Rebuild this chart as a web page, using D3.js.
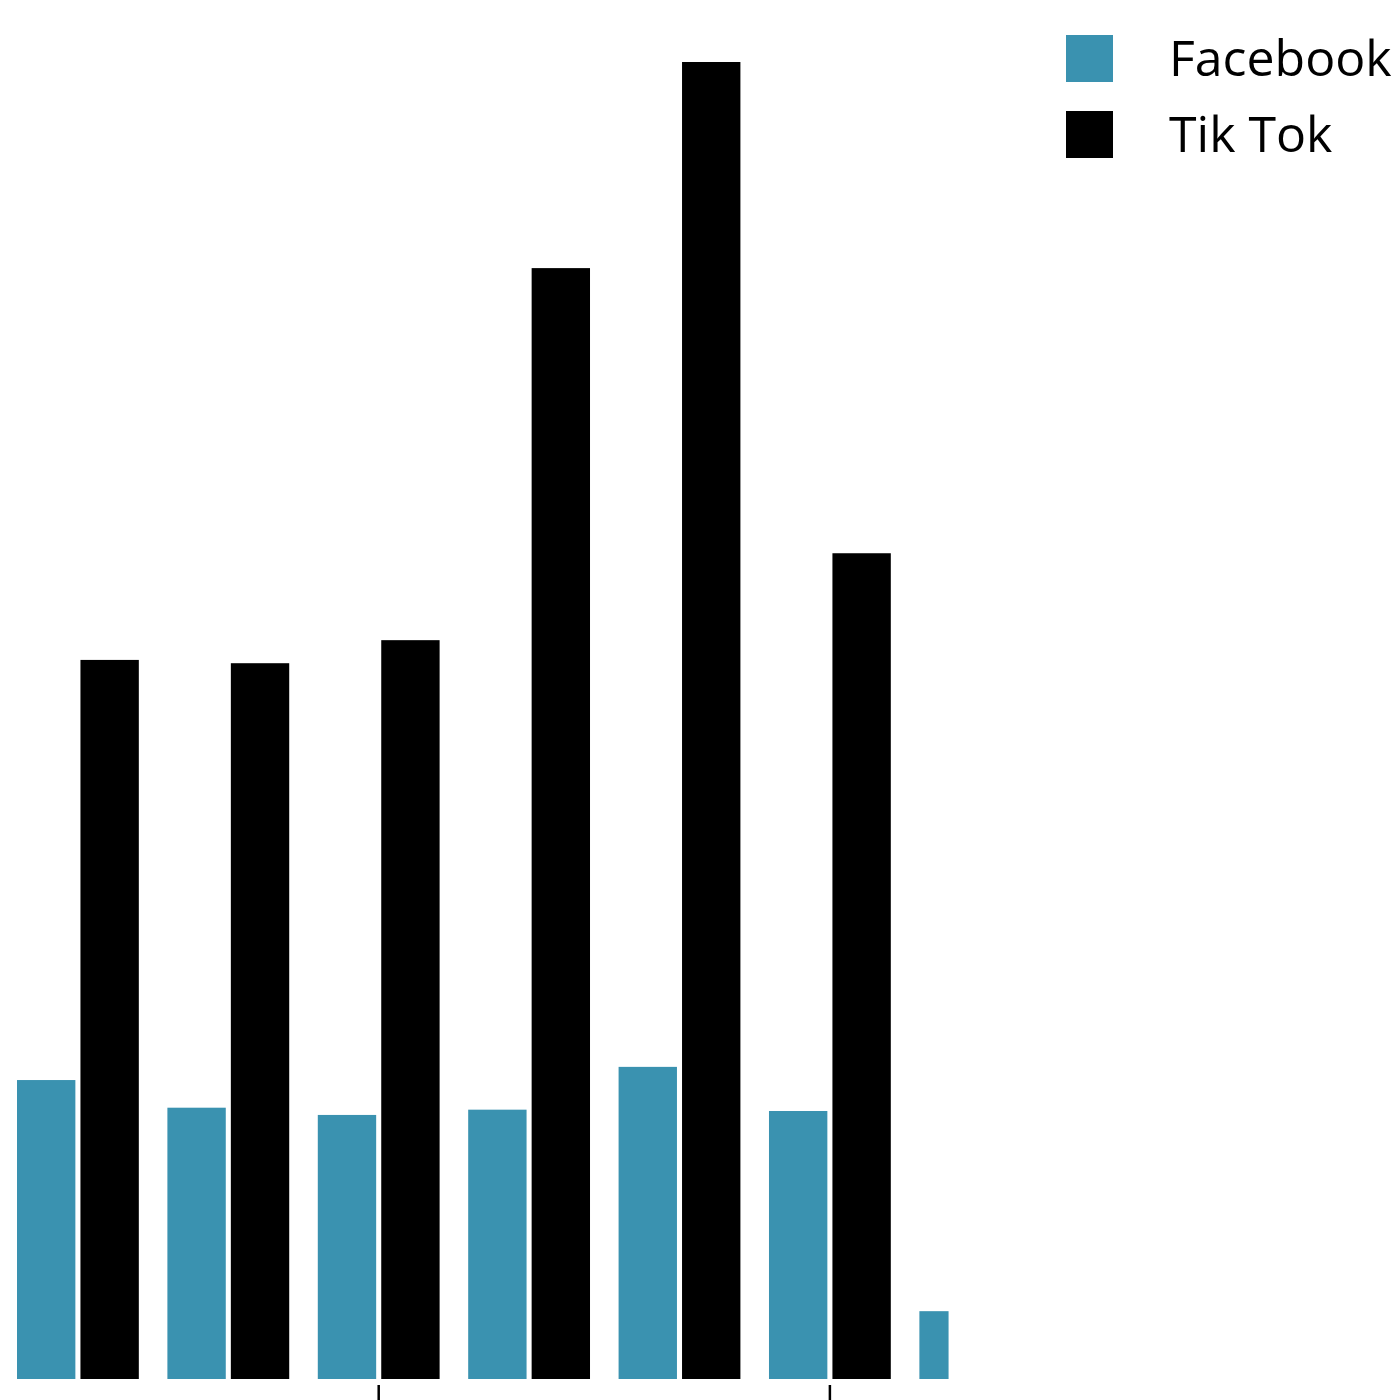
<!DOCTYPE html>
<html>
<head>
<meta charset="utf-8">
<script src="https://cdn.jsdelivr.net/npm/d3@7"></script>
<style>
  html, body { margin: 0; padding: 0; background: #fff; }
  svg { display: block; }
</style>
</head>
<body>
<svg id="chart" width="1400" height="1400"></svg>
<script>
const categories = ["1", "2", "3", "4", "5", "6", "7"];
const seriesNames = ["Facebook", "Tik Tok"];
const facebook = [4.54, 4.12, 4.01, 4.09, 4.74, 4.07, 1.03];
const tiktok = [10.92, 10.87, 11.22, 16.87, 20.0, 12.54, null];
const tickCategories = ["3", "6"];
const colors = ["#3a92b0", "#000000"];

const svg = d3.select("#chart");
const baseline = 1379;

const x0 = d3.scaleBand().domain(categories).range([17, 1041.2]).paddingInner(0.19).paddingOuter(0);
const x1 = d3.scaleBand().domain(seriesNames).range([0, x0.bandwidth()]).paddingInner(0.08);
const y = d3.scaleLinear().domain([0, 20]).range([baseline, 62]);
const color = d3.scaleOrdinal().domain(seriesNames).range(colors);

const rows = categories.map((c, i) => ({ cat: c, values: [
  { s: "Facebook", v: facebook[i], partner: tiktok[i] },
  { s: "Tik Tok", v: tiktok[i], partner: facebook[i] }
]}));

const g = svg.append("g");
g.selectAll("g.grp").data(rows).join("g")
  .attr("class", "grp")
  .attr("transform", d => `translate(${x0(d.cat)},0)`)
  .selectAll("rect").data(d => d.values.filter(v => v.v != null)).join("rect")
  .attr("x", d => x1(d.s))
  .attr("y", d => y(d.v))
  .attr("width", d => d.partner == null ? x1.bandwidth() / 2 : x1.bandwidth())
  .attr("height", d => y(0) - y(d.v))
  .attr("fill", d => color(d.s));

const axis = d3.axisBottom(x0).tickValues(tickCategories).tickFormat(() => "").tickSize(30).tickSizeOuter(0);
const ax = svg.append("g").attr("transform", `translate(0,${baseline + 6})`).call(axis);
ax.select(".domain").remove();
ax.selectAll(".tick line").attr("stroke", "#000").attr("stroke-width", 2.5);

const legend = svg.append("g").attr("transform", "translate(1066,35)");
const li = legend.selectAll("g").data(seriesNames).join("g")
  .attr("transform", (d, i) => `translate(0,${i * 76})`);
li.append("rect").attr("width", 47).attr("height", 47).attr("fill", d => color(d));
li.append("text").attr("x", 103).attr("y", 41)
  .attr("font-family", "'Open Sans', 'Noto Sans', sans-serif")
  .attr("font-size", 50).attr("fill", "#000")
  .text(d => d);
</script>
</body>
</html>
